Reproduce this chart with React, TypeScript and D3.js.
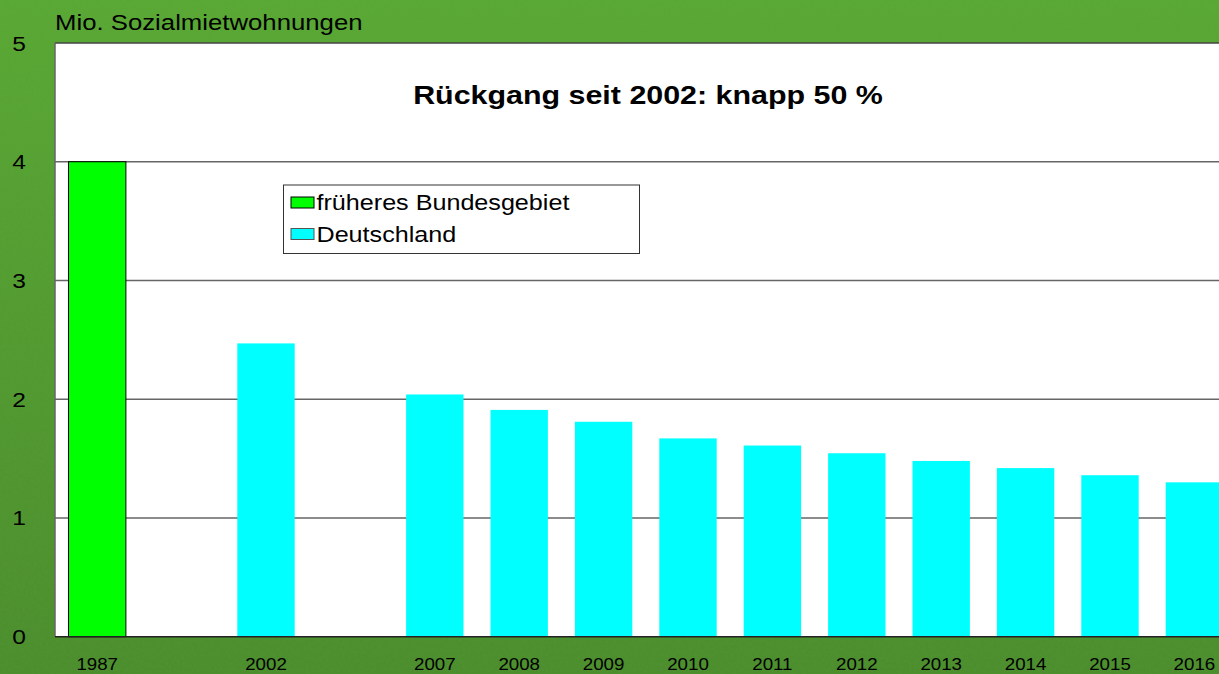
import React from "react";
import * as d3 from "d3";

// x slots: empty strings are years without a bar
const categories = ["1987", "", "2002", "", "2007", "2008", "2009", "2010", "2011", "2012", "2013", "2014", "2015", "2016"];
const frueheresBundesgebiet = [4.0, null, null, null, null, null, null, null, null, null, null, null, null, null];
const deutschland = [null, null, 2.47, null, 2.04, 1.91, 1.81, 1.67, 1.61, 1.545, 1.48, 1.42, 1.36, 1.3];
const yTicks = [0, 1, 2, 3, 4, 5];
const legendItems = [
  { label: "früheres Bundesgebiet", color: "#00ff00", stroke: "#000" },
  { label: "Deutschland", color: "#00ffff", stroke: "#555" },
];

const W = 1219;
const H = 674;
const plot = { left: 55, top: 43, bottom: 636.7, right: 1236.6 };
const SX = 1.17; // the source picture is stretched horizontally

function SText({ x, y, size, anchor = "start", bold = false, children }: any) {
  return (
    <text
      transform={`translate(${x},${y}) scale(${SX},1)`}
      fontSize={size}
      fontWeight={bold ? "bold" : "normal"}
      textAnchor={anchor}
      fontFamily="Liberation Sans, Arial, sans-serif"
      fill="#000"
    >
      {children}
    </text>
  );
}

export default function App() {
  const x = d3
    .scaleBand<number>()
    .domain(categories.map((_, i) => i))
    .range([plot.left, plot.right])
    .paddingInner(0.32)
    .paddingOuter(0.16);

  const y = d3.scaleLinear().domain([0, 5]).range([plot.bottom, plot.top]);

  const bars = (vals: (number | null)[], fill: string, stroke: string | null) =>
    vals.map((v, i) =>
      v == null ? null : (
        <rect
          key={fill + i}
          x={x(i)}
          y={y(v)}
          width={x.bandwidth()}
          height={y(0) - y(v)}
          fill={fill}
          stroke={stroke ?? "none"}
          strokeWidth={1}
        />
      )
    );

  return (
    <svg width={W} height={H} style={{ position: "absolute", left: 0, top: 0 }}>
      <defs>
        <linearGradient id="bg" x1="0" y1="0" x2="0" y2="1">
          <stop offset="0%" stopColor="#58a833" />
          <stop offset="100%" stopColor="#4a8d2c" />
        </linearGradient>
        <filter id="grain">
          <feTurbulence type="fractalNoise" baseFrequency="0.35" numOctaves="2" seed="3" />
          <feColorMatrix type="matrix" values="0 0 0 0 0.2  0 0 0 0 0.4  0 0 0 0 0.1  0 0 0 0.35 0" />
        </filter>
      </defs>
      <rect width={W} height={H} fill="url(#bg)" />
      <rect width={W} height={H} filter="url(#grain)" opacity={0.35} />

      {/* plot area */}
      <rect x={plot.left} y={plot.top} width={plot.right - plot.left} height={plot.bottom - plot.top} fill="#fff" />
      {yTicks.slice(1, -1).map((t) => (
        <line key={t} x1={plot.left} x2={plot.right} y1={y(t)} y2={y(t)} stroke="#666" strokeWidth={1.5} />
      ))}
      <line x1={plot.left} x2={plot.right} y1={plot.top} y2={plot.top} stroke="#444" strokeWidth={1.5} />
      <line x1={plot.left} x2={plot.left} y1={plot.top} y2={plot.bottom} stroke="#666" strokeWidth={1.5} />

      {bars(frueheresBundesgebiet, "#00ff00", "#000")}
      {bars(deutschland, "#00ffff", null)}

      <line x1={plot.left} x2={plot.right} y1={plot.bottom} y2={plot.bottom} stroke="#222" strokeWidth={1.5} />

      {/* y labels */}
      {yTicks.map((t) => (
        <SText key={t} x={19} y={y(t) + 7.5} size={21} anchor="middle">
          {t}
        </SText>
      ))}
      {/* x labels */}
      {categories.map((c, i) =>
        c ? (
          <SText key={i} x={(x(i) ?? 0) + x.bandwidth() / 2} y={670} size={16} anchor="middle">
            {c}
          </SText>
        ) : null
      )}

      <SText x={55} y={30} size={22}>
        Mio. Sozialmietwohnungen
      </SText>
      <SText x={648} y={103.5} size={26} anchor="middle" bold>
        Rückgang seit 2002: knapp 50 %
      </SText>

      {/* legend */}
      <rect x={283.5} y={185} width={356} height={68.5} fill="#fff" stroke="#333" strokeWidth={1} />
      {legendItems.map((it, i) => (
        <g key={it.label}>
          <rect x={291} y={197 + i * 31.5} width={23} height={11} fill={it.color} stroke={it.stroke} strokeWidth={1} />
          <SText x={316.5} y={210 + i * 31.5} size={21.5}>
            {it.label}
          </SText>
        </g>
      ))}
    </svg>
  );
}
